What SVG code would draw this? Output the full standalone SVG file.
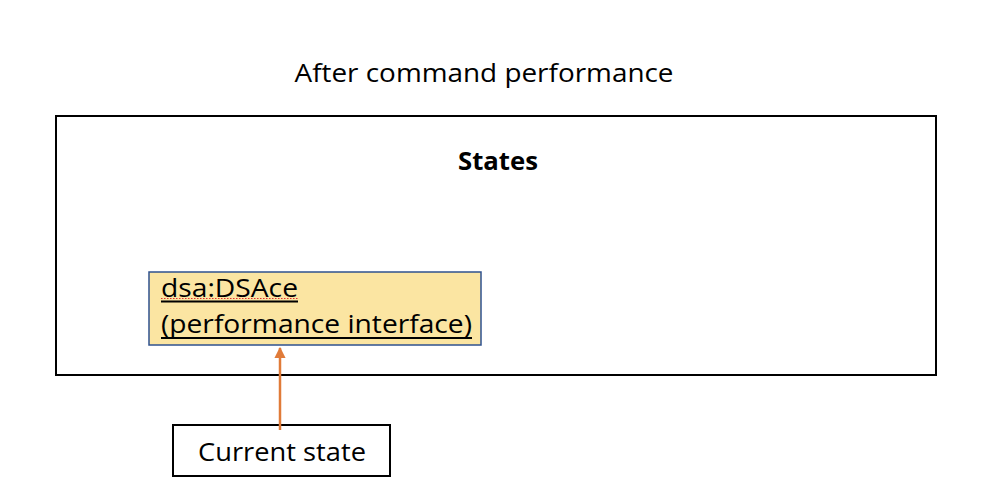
<svg xmlns="http://www.w3.org/2000/svg" width="988" height="502" viewBox="0 0 988 502">
<style>
text{font-family:"Open Sans","Liberation Sans",sans-serif;fill:#000}
.t{font-size:26px}
.b{font-size:25px;font-weight:bold}
.box{fill:#fff;stroke:#000;stroke-width:2}
</style>
<defs>
<marker id="ah" viewBox="0 0 10 10" refX="9" refY="5" markerWidth="4.5" markerHeight="4.5" orient="auto"><path d="M0,0L10,5L0,10z" fill="#E07B39"/></marker>
</defs>
<rect width="988" height="502" fill="#fff"/>
<text class="t" x="484" y="82" text-anchor="middle" textLength="379" lengthAdjust="spacingAndGlyphs">After command performance</text>
<g id="states">
<rect class="box" x="56" y="116" width="880" height="259"/>
<text class="b" x="498" y="170" text-anchor="middle" textLength="80" lengthAdjust="spacingAndGlyphs">States</text>
</g>
<g id="dsa">
<rect x="149" y="272" width="332" height="73" fill="#FBE5A2" stroke="#2F528F" stroke-width="1.5"/>
<text class="t" x="161" y="297" textLength="137" lengthAdjust="spacingAndGlyphs">dsa:DSAce</text>
<line x1="161" y1="301.5" x2="298" y2="301.5" stroke="#000" stroke-width="2"/>
<line x1="161" y1="298.5" x2="298" y2="298.5" stroke="#E03030" stroke-width="1.2" stroke-dasharray="1.5,1.5"/>
<text class="t" x="161" y="333" textLength="311" lengthAdjust="spacingAndGlyphs">(performance interface)</text>
<line x1="161" y1="338" x2="472" y2="338" stroke="#000" stroke-width="2"/>
</g>
<g id="current">
<rect class="box" x="173" y="425" width="217" height="51" stroke-width="1.3"/>
<text class="t" x="282" y="461" text-anchor="middle" textLength="168" lengthAdjust="spacingAndGlyphs">Current state</text>
</g>
<g id="connectors">
<line x1="280" y1="430" x2="280" y2="348" stroke="#E07B39" stroke-width="2.5" marker-end="url(#ah)"/>
</g>
</svg>
